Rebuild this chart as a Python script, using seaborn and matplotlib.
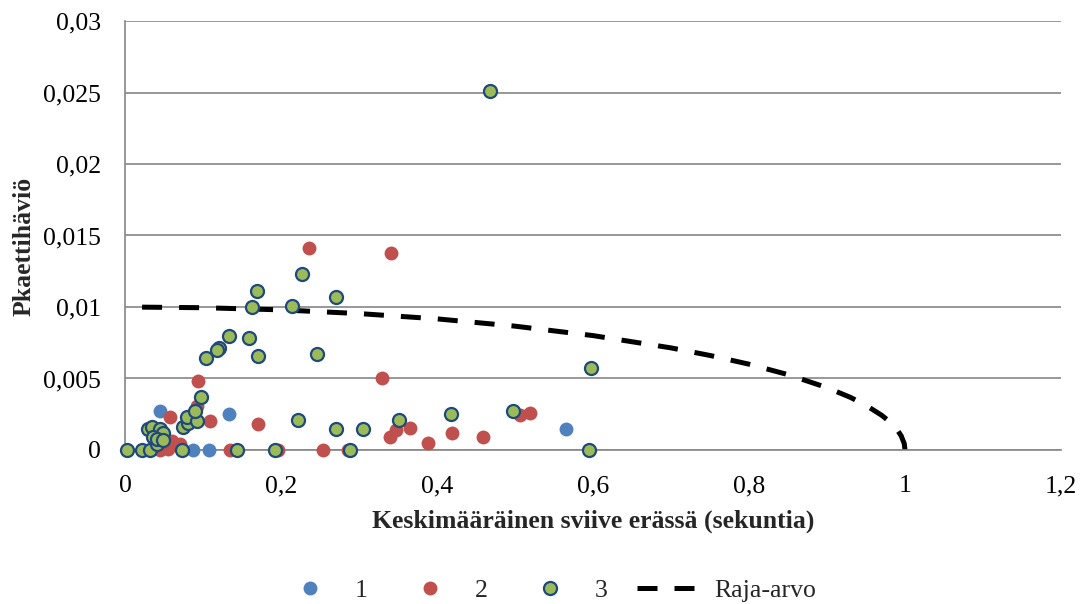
import matplotlib
matplotlib.use("Agg")
import matplotlib.pyplot as plt
from matplotlib.lines import Line2D
import seaborn as sns
import pandas as pd

# Series 1
s1_x = [0.045, 0.133, 0.565, 0.087, 0.108, 0.038]
s1_y = [0.0027, 0.0025, 0.0015, 0.0, 0.0, 0.0005]

# Series 2
s2_x = [0.236, 0.341, 0.329, 0.094, 0.092, 0.058, 0.109, 0.171, 0.060, 0.071,
        0.055, 0.045, 0.135, 0.254, 0.286, 0.196, 0.340, 0.348, 0.365, 0.389,
        0.419, 0.459, 0.506, 0.519]
s2_y = [0.0141, 0.01375, 0.0050, 0.0048, 0.0031, 0.0023, 0.0020, 0.0018, 0.0006, 0.0004,
        0.0001, 0.0, 0.0, 0.0, 0.0, 0.0, 0.0009, 0.0014, 0.00156, 0.0005,
        0.0012, 0.0009, 0.00245, 0.0026]

# Series 3
s3_x = [0.468, 0.227, 0.169, 0.270, 0.163, 0.214, 0.133, 0.159, 0.1205, 0.118,
        0.104, 0.170, 0.246, 0.597, 0.097, 0.222, 0.271, 0.305, 0.351, 0.418,
        0.498, 0.595, 0.289, 0.192, 0.144,
        0.003, 0.022, 0.032, 0.041, 0.029, 0.035, 0.045, 0.049, 0.036, 0.041,
        0.049, 0.074, 0.081, 0.079, 0.092, 0.090, 0.073]
s3_y = [0.0251, 0.0123, 0.0111, 0.0107, 0.0100, 0.0101, 0.0080, 0.00785, 0.0071, 0.0070,
        0.0064, 0.0066, 0.0067, 0.0057, 0.0037, 0.0021, 0.0015, 0.0015, 0.0021, 0.0025,
        0.0027, 0.0, 0.0, 0.0, 0.0,
        0.0, 0.0, 0.0, 0.0004, 0.0015, 0.0016, 0.0015, 0.0012, 0.0009, 0.0008,
        0.0007, 0.0016, 0.0019, 0.0023, 0.0020, 0.0027, 0.0]

# Threshold curve (Raja-arvo)
raja_x = [0.0, 0.1, 0.2, 0.3, 0.4, 0.5, 0.6, 0.7, 0.75, 0.8, 0.85, 0.9, 0.93, 0.95,
          0.97, 0.98, 0.99, 0.995, 0.999, 1.0]
raja_y = [0.0100, 0.00995, 0.0098, 0.00954, 0.00917, 0.00866, 0.0080, 0.00714, 0.00661,
          0.0060, 0.00527, 0.00436, 0.00368, 0.00312, 0.00243, 0.00199, 0.00141, 0.0010,
          0.00045, 0.0]

series_names = ["1", "2", "3"]
curve_name = "Raja-arvo"

x_ticks = [0, 0.2, 0.4, 0.6, 0.8, 1.0, 1.2]
x_tick_labels = ["0", "0,2", "0,4", "0,6", "0,8", "1", "1,2"]
y_ticks = [0, 0.005, 0.01, 0.015, 0.02, 0.025, 0.03]
y_tick_labels = ["0", "0,005", "0,01", "0,015", "0,02", "0,025", "0,03"]

x_label = "Keskimääräinen sviive erässä (sekuntia)"
y_label = "Pkaettihäviö"

sns.set_theme(style="white")
plt.rcParams["font.family"] = ["Liberation Serif", "DejaVu Serif"]

BLUE = "#4F81BD"
RED = "#C0504D"
GREEN = "#9BBB59"
EDGE = "#1F497D"
GRID = "#868686"
FS = 18.5
DASH = [4.0, 3.4]
LW = 3.6

fig = plt.figure(figsize=(10.83, 6.04), dpi=100)
ax = fig.add_axes([0.1154, 0.255, 0.8643, 0.7102])

df1 = pd.DataFrame({"x": s1_x, "y": s1_y})
df2 = pd.DataFrame({"x": s2_x, "y": s2_y})
df3 = pd.DataFrame({"x": s3_x, "y": s3_y})
# traced from the x=1 end so the dash pattern closes on the axis there
dfr = pd.DataFrame({"x": raja_x, "y": raja_y}).iloc[::-1].reset_index(drop=True)

sns.lineplot(data=dfr, x="x", y="y", ax=ax, sort=False, color="black",
             linewidth=LW, zorder=2, legend=False)
ax.lines[-1].set_dashes(DASH)
ax.lines[-1].set_dash_capstyle("butt")

sns.scatterplot(data=df1, x="x", y="y", ax=ax, color=BLUE, s=100,
                linewidth=0, zorder=3, legend=False, clip_on=False)
sns.scatterplot(data=df2, x="x", y="y", ax=ax, color=RED, s=100,
                linewidth=0, zorder=4, legend=False, clip_on=False)
sns.scatterplot(data=df3, x="x", y="y", ax=ax, color=GREEN, edgecolor=EDGE, s=88,
                linewidth=1.6, zorder=5, legend=False, clip_on=False)

ax.set_xlim(0, 1.2)
ax.set_ylim(0, 0.03)
ax.set_xticks(x_ticks)
ax.set_xticklabels(x_tick_labels)
ax.set_yticks(y_ticks)
ax.set_yticklabels(y_tick_labels)

ax.yaxis.grid(True, color=GRID, linewidth=1.2, zorder=0)
ax.xaxis.grid(False)
ax.set_axisbelow(True)

for side in ["top", "right"]:
    ax.spines[side].set_visible(False)
for side in ["left", "bottom"]:
    ax.spines[side].set_color(GRID)
    ax.spines[side].set_linewidth(1.2)

ax.tick_params(axis="both", which="major", direction="out", length=5, width=1.2,
               color=GRID, labelsize=FS, labelcolor="black")
ax.tick_params(axis="x", pad=13)
ax.tick_params(axis="y", pad=12)

ax.set_xlabel(x_label, fontsize=FS, fontweight="bold")
ax.set_ylabel(y_label, fontsize=FS, fontweight="bold")
ax.xaxis.set_label_coords(0.5, -0.14)
ax.yaxis.set_label_coords(-0.096, 0.475)

handles = [
    Line2D([], [], linestyle="none", marker="o", markersize=10, markerfacecolor=BLUE,
           markeredgewidth=0),
    Line2D([], [], linestyle="none", marker="o", markersize=10, markerfacecolor=RED,
           markeredgewidth=0),
    Line2D([], [], linestyle="none", marker="o", markersize=9.4, markerfacecolor=GREEN,
           markeredgecolor=EDGE, markeredgewidth=1.6),
    Line2D([], [], color="black", linewidth=LW, dashes=DASH, dash_capstyle="butt"),
]
fig.legend(handles, series_names + [curve_name], loc="center",
           bbox_to_anchor=(0.505, 0.023), ncol=4, frameon=False, fontsize=FS,
           handlelength=2.57, handletextpad=0.43, columnspacing=1.17,
           borderaxespad=0, borderpad=0)

fig.savefig("out.png", dpi=100)
